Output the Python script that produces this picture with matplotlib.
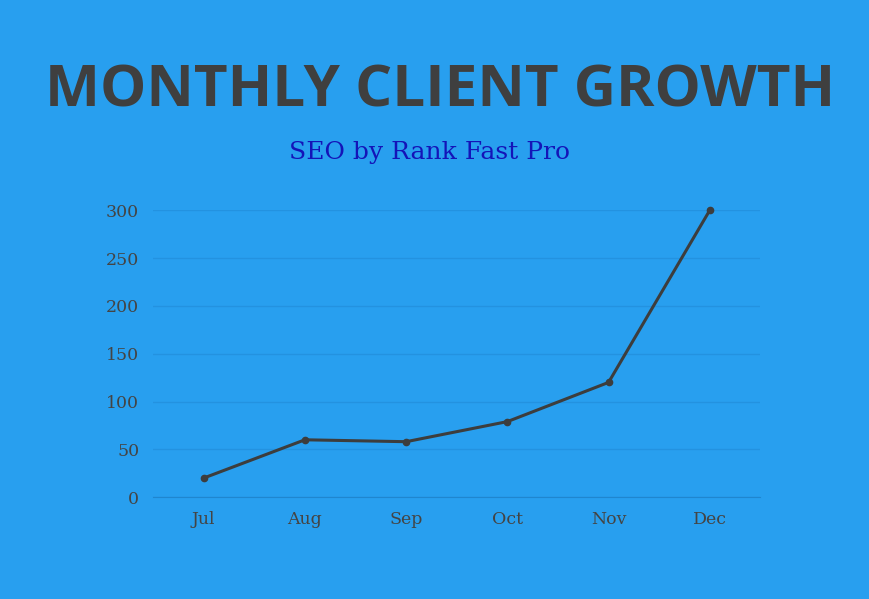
import matplotlib
matplotlib.use("Agg")
import matplotlib.pyplot as plt

months = ["Jul", "Aug", "Sep", "Oct", "Nov", "Dec"]
clients = [20, 60, 58, 79, 120, 300]
yticks = [0, 50, 100, 150, 200, 250, 300]

bg = "#289FEF"
fig = plt.figure(figsize=(8.7, 5.99), dpi=100, facecolor=bg)
ax = fig.add_axes([0.176, 0.170, 0.698, 0.479], facecolor=bg)
x = list(range(len(months)))
ax.plot(x, clients, color="#3d3d3d", lw=2.2, marker="o", ms=4.5, clip_on=False, zorder=3)
ax.set_xlim(-0.5, 5.5)
ax.set_ylim(0, 300)
ax.set_xticks(x, months)
ax.set_yticks(yticks)
for s in ["top", "right", "left"]:
    ax.spines[s].set_visible(False)
ax.spines["bottom"].set_color("#1f86cf")
ax.grid(axis="y", color="#2392e0", lw=1)
ax.set_axisbelow(True)
ax.tick_params(length=0, colors="#444444", labelsize=13, pad=10)
for t in ax.get_xticklabels() + ax.get_yticklabels():
    t.set_family("DejaVu Serif")
    t.set_fontsize(12.5)

fig.text(0.506, 0.847, "MONTHLY CLIENT GROWTH", ha="center", va="center",
         fontsize=42, fontweight="bold", color="#3f3f3f", family="Open Sans")
fig.text(0.494, 0.746, "SEO by Rank Fast Pro", ha="center", va="center",
         fontsize=18, color="#1414b8", family="DejaVu Serif")
fig.savefig("out.png", dpi=100, facecolor=bg)
